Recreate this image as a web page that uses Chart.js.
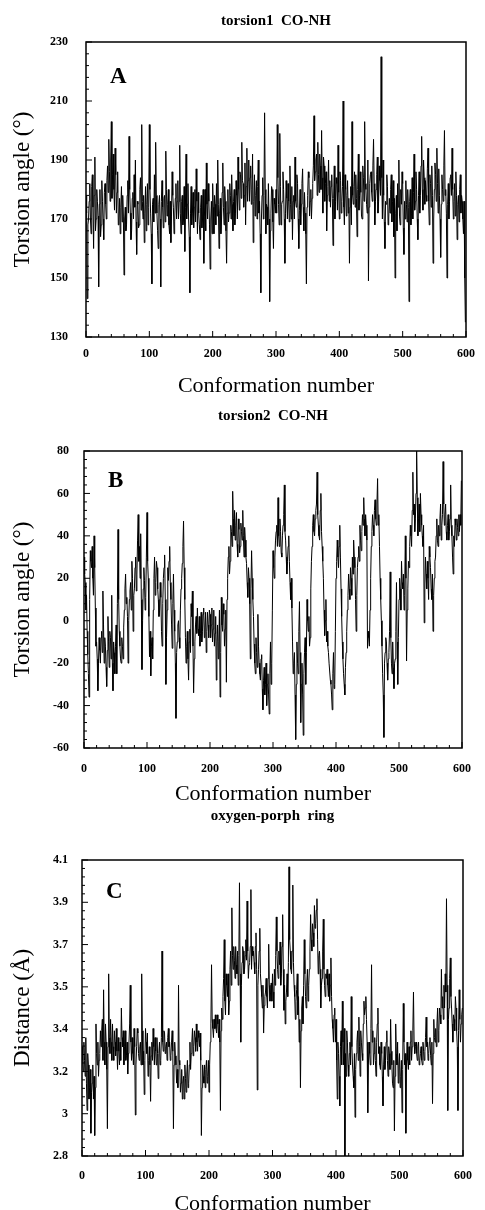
<!DOCTYPE html>
<html lang="en">
<head>
<meta charset="UTF-8">
<title>Torsion angles and distance vs conformation</title>
<script src="https://cdn.jsdelivr.net/npm/chart.js"></script>
<style>
  html, body { margin: 0; padding: 0; background: #fff; overflow: hidden; }
  .panel { position: absolute; left: 0; width: 485px; }
</style>
</head>
<body>
<div class="panel" style="top:0px;height:400px"><canvas id="chartA"></canvas></div>
<div class="panel" style="top:398px;height:415px"><canvas id="chartB"></canvas></div>
<div class="panel" style="top:800px;height:420px"><canvas id="chartC"></canvas></div>
<script>
// conformation numbers 0..599
const conformations = Array.from({ length: 600 }, (_, i) => i);

// panel A: torsion1 CO-NH (degrees), one row = 30 conformations
const torsion1 = [
  178,172,143,168,170,176,182,170,165,181,185,174,160,178,191,166,170,180,176,171,147,175,180,164,168,183,176,170,163,179,
  182,175,170,183,188,179,197,186,176,190,203,177,185,192,180,173,194,185,172,179,186,168,170,177,165,174,181,169,178,171,
  151,170,174,166,168,178,183,172,198,180,172,163,166,177,179,170,185,174,190,169,158,176,175,167,168,180,184,173,202,176,
  170,178,162,172,181,166,175,182,168,174,202,180,172,165,148,175,177,169,185,172,196,178,172,166,160,175,178,170,147,176,
  183,174,167,177,178,169,193,180,171,175,180,168,165,176,162,171,186,178,174,165,169,177,182,170,176,183,170,176,195,172,
  165,176,178,168,170,181,159,174,192,170,175,182,170,164,145,172,181,168,172,179,167,174,180,169,187,176,165,179,172,168,
  163,174,178,167,170,180,155,171,180,166,189,175,170,182,176,168,153,170,176,165,182,174,165,178,175,168,182,171,190,175,
  160,172,177,165,170,179,189,174,168,181,176,166,155,172,180,169,172,182,178,170,185,175,166,176,180,168,172,183,178,170,
  191,180,173,186,185,177,196,183,182,174,178,189,168,181,194,176,183,190,176,184,188,175,180,192,162,176,185,171,178,183,
  170,181,190,172,176,165,145,170,178,184,170,178,206,180,165,175,174,168,182,170,142,166,172,181,180,169,160,177,175,172,
  180,172,202,184,175,168,199,181,168,175,176,186,180,170,155,172,183,177,170,182,176,169,188,175,170,181,163,176,178,170,
  191,176,174,185,182,170,160,173,180,168,175,182,187,174,166,179,172,165,148,174,178,186,184,171,176,180,170,177,182,188,
  205,183,186,190,192,178,196,185,179,192,188,180,200,184,172,191,188,176,182,186,166,178,181,190,176,183,174,181,185,177,
  161,177,188,170,176,184,182,173,195,179,170,186,183,172,176,181,210,174,168,185,180,171,178,183,172,177,155,174,181,168,
  203,178,175,181,186,174,185,177,164,180,192,173,178,186,179,171,170,188,184,176,203,182,180,175,172,190,149,174,182,185,
  186,179,176,188,197,182,168,176,180,185,191,172,176,188,183,178,225,184,170,190,178,169,160,176,175,185,181,168,170,177,
  172,180,185,169,176,183,164,177,150,172,178,166,182,174,190,171,168,180,175,186,182,167,158,176,170,183,175,169,180,174,
  142,176,180,168,172,184,170,179,192,173,176,186,180,170,163,178,186,172,178,188,198,180,173,190,184,175,183,178,176,187,
  194,176,168,185,182,174,188,178,155,170,180,189,185,176,194,182,172,187,178,170,157,175,185,180,176,188,200,178,180,172,
  150,175,182,170,176,184,185,178,194,180,170,176,182,171,186,178,163,175,178,169,180,185,172,178,176,170,165,176,150,135
];

// panel B: torsion2 CO-NH (degrees)
const torsion2 = [
  30,22,18,5,12,-5,-16,-25,-36,10,33,28,25,35,20,12,40,25,6,-12,-10,-18,-33,-20,-8,-14,-20,-8,-5,-15,
  14,-2,-20,-8,-12,-22,-31,-14,2,-10,-22,-5,-8,-18,12,-20,-33,-10,-15,-25,-12,-2,-25,8,43,10,-5,-12,-18,-20,
  -8,-12,-18,-3,5,15,22,8,11,2,-20,0,10,14,18,5,28,20,-5,12,15,25,30,14,22,38,50,28,35,20,
  41,10,-23,0,15,25,19,5,11,30,51,28,20,2,-17,-5,-26,-12,-8,-18,5,20,30,12,18,28,25,15,10,2,
  5,18,11,-5,-12,8,20,25,31,10,-30,-8,5,25,19,28,35,18,10,-2,-13,8,22,5,-5,-20,-46,-15,-10,-2,
  0,-8,-13,5,15,20,27,35,47,25,10,-8,-20,-12,-5,-18,-28,-10,-4,-15,8,2,14,-12,-34,-18,-10,-2,2,-6,
  6,-4,-7,2,-12,-6,4,-10,-5,3,6,-8,-3,4,-15,-5,4,-2,-8,5,3,-8,-2,6,-10,-4,5,-12,-6,2,
  -28,-10,-2,-18,-10,5,-36,-15,11,-2,-5,8,3,-12,-4,5,-29,10,20,30,35,22,28,45,42,35,61,48,40,52,
  38,45,51,36,30,48,43,32,35,46,42,38,52,40,30,44,38,30,27,18,11,25,20,8,-18,15,33,20,10,2,
  -11,-20,-25,-8,-15,-22,3,-12,-20,-25,-28,-18,-16,-32,-42,-28,-22,-35,-30,-20,-40,-30,-25,-35,-44,-25,-10,-30,-20,5,
  33,25,20,30,38,42,45,35,58,40,35,48,42,32,30,40,45,50,64,42,38,30,22,28,35,40,28,18,10,20,
  6,-10,-25,-20,-15,-35,-56,-30,-10,-20,-25,-5,9,-15,-48,-30,-20,-35,-54,-25,-15,-8,-30,-15,10,0,-5,2,-12,-8,
  15,28,35,45,50,42,40,48,52,55,70,50,45,40,38,52,60,42,35,28,20,5,-7,0,10,-10,-5,-12,-15,-20,
  -20,-28,-30,-35,-42,-25,-15,-32,-30,-5,20,28,38,30,25,35,45,30,15,2,-10,-18,-25,-30,-35,-22,-15,-5,5,12,
  22,15,10,25,20,12,30,22,38,30,25,10,-5,12,25,30,35,28,45,38,33,42,50,45,58,48,40,50,45,38,
  -13,-5,-8,-12,5,20,35,42,50,45,40,52,57,48,45,55,67,45,50,35,20,10,0,-12,-25,-35,-55,-20,-15,-8,
  -10,-20,-28,-18,-15,-5,23,-8,-20,-25,-10,-22,-32,-20,-18,-5,18,-10,-30,-8,10,20,15,5,28,18,15,22,5,12,
  40,20,-19,5,15,28,25,35,45,40,35,52,70,50,55,42,48,60,80,58,40,48,55,42,60,50,45,40,35,45,
  -1,15,30,22,15,28,20,10,35,30,25,15,10,22,-5,12,20,28,30,40,48,38,35,45,40,48,55,38,45,50,
  75,55,45,50,55,42,38,45,50,38,42,48,64,45,40,30,22,40,35,48,45,38,48,44,40,50,42,50,45,66
];

// panel C: oxygen-porph ring distance (Angstrom)
const distance = [
  3.28,3.22,3.17,3.3,3.22,3.15,3.32,3.12,3.0,3.25,3.2,3.05,3.1,3.18,2.9,3.08,3.12,3.2,3.05,3.15,2.89,3.1,3.38,3.25,3.2,3.3,3.15,3.22,3.25,3.35,
  3.28,3.35,3.4,3.22,3.53,3.3,3.2,3.38,3.3,3.18,2.92,3.28,3.6,3.32,3.25,3.4,3.3,3.22,3.38,3.28,3.22,3.35,3.3,3.24,3.36,3.26,3.18,3.32,3.26,3.2,
  3.3,3.22,3.45,3.32,3.28,3.35,3.2,3.28,3.35,3.22,3.24,3.3,3.16,3.25,3.3,3.38,3.55,3.3,3.22,3.32,3.25,3.2,3.36,3.28,2.98,3.2,3.28,3.36,3.34,3.25,
  3.22,3.28,3.3,3.2,3.6,3.35,3.2,3.26,3.07,3.22,3.36,3.3,3.25,3.34,3.15,3.22,3.28,3.2,3.04,3.24,3.3,3.22,3.36,3.28,3.2,3.32,3.26,3.2,3.32,3.25,
  3.14,3.25,3.3,3.2,3.22,3.32,3.7,3.3,3.26,3.35,3.34,3.25,3.28,3.3,3.22,3.32,3.36,3.28,3.3,3.22,3.24,3.3,3.35,3.26,2.92,3.2,3.3,3.24,3.2,3.12,
  3.18,3.1,3.55,3.22,3.2,3.08,3.12,3.18,3.05,3.12,3.15,3.05,3.2,3.14,3.08,3.16,3.22,3.1,3.12,3.2,3.3,3.18,3.25,3.3,3.36,3.24,3.28,3.35,3.32,3.26,
  3.38,3.3,3.26,3.35,3.32,3.28,3.34,3.22,2.89,3.1,3.2,3.15,3.12,3.2,3.1,3.18,3.22,3.12,3.15,3.22,3.08,3.2,3.3,3.38,3.64,3.4,3.36,3.32,3.4,3.36,
  3.42,3.36,3.34,3.42,3.38,3.32,3.4,3.3,3.0,3.35,3.45,3.4,3.5,3.58,3.75,3.48,3.42,3.6,3.55,3.5,3.6,3.42,3.48,3.62,3.7,3.55,3.89,3.68,3.62,3.72,
  3.66,3.58,3.72,3.64,3.6,3.7,3.55,3.68,4.0,3.6,3.3,3.55,3.65,3.72,3.7,3.6,3.62,3.68,3.75,3.66,3.92,3.7,3.58,3.64,3.65,3.72,3.97,3.62,3.72,3.68,
  3.7,3.65,3.6,3.72,3.78,3.62,3.09,3.55,3.62,3.7,3.8,3.6,3.55,3.5,3.45,3.55,3.34,3.46,3.5,3.52,3.58,3.5,3.45,3.58,3.73,3.55,3.48,3.52,3.56,3.48,
  3.6,3.52,3.45,3.62,3.55,3.68,3.85,3.7,3.62,3.58,3.7,3.64,3.74,3.55,3.6,3.72,3.86,3.62,3.44,3.55,3.38,3.48,3.52,3.6,3.5,3.65,4.07,3.75,3.7,3.62,
  3.6,3.7,3.99,3.65,3.55,3.5,3.4,3.48,3.53,3.6,3.42,3.5,3.3,3.4,3.1,3.35,3.45,3.5,3.38,3.55,3.75,3.6,3.5,3.45,3.56,3.62,3.48,3.55,3.62,3.7,
  3.86,3.75,3.7,3.82,3.78,3.72,3.9,3.8,3.82,3.88,3.93,3.75,3.6,3.68,3.7,3.62,3.45,3.55,3.58,3.7,3.84,3.62,3.55,3.5,3.6,3.58,3.62,3.55,3.5,3.6,
  3.48,3.55,3.67,3.5,3.4,3.36,3.3,3.42,3.45,3.3,3.4,3.22,3.05,3.3,3.25,3.15,3.02,3.28,3.35,3.2,3.48,3.3,3.2,3.36,2.8,3.25,3.15,3.35,3.3,3.2,
  3.15,3.25,3.3,3.2,3.5,3.28,3.2,3.15,3.1,3.25,2.97,3.18,3.25,3.3,3.35,3.22,3.41,3.28,3.15,3.35,3.3,3.25,3.22,3.38,3.48,3.42,3.45,3.5,3.4,3.3,
  2.99,3.2,3.3,3.25,3.2,3.36,3.64,3.3,3.35,3.2,3.25,3.32,3.22,3.15,3.3,3.38,3.45,3.25,3.28,3.2,3.18,3.3,3.25,3.15,3.02,3.2,3.28,3.18,3.22,3.3,
  3.35,3.22,3.15,3.28,3.25,3.18,3.4,3.26,3.2,3.12,3.1,3.22,2.91,3.15,3.38,3.25,3.2,3.3,3.12,3.2,3.25,3.1,3.15,3.22,2.99,3.18,3.47,3.3,3.2,3.25,
  2.9,3.2,3.3,3.22,3.18,3.28,3.2,3.3,3.35,3.22,3.28,3.35,3.52,3.3,3.25,3.28,3.3,3.25,3.22,3.28,3.3,3.2,3.22,3.25,3.28,3.22,3.2,3.3,3.26,3.22,
  3.26,3.32,3.41,3.28,3.3,3.22,3.25,3.3,3.32,3.24,3.2,3.3,3.03,3.25,3.4,3.32,3.3,3.36,3.28,3.38,3.45,3.3,3.35,3.45,3.42,3.38,3.62,3.45,3.5,3.4,
  3.55,3.45,3.6,3.52,3.93,3.55,3.0,3.4,3.45,3.58,3.67,3.5,3.45,3.38,3.3,3.42,3.4,3.35,3.5,3.45,3.35,3.28,3.0,3.35,3.53,3.4,3.3,3.38,3.42,3.45
];

// tick labels
const xTicks = [0, 100, 200, 300, 400, 500, 600];
const yTicksA = [130, 150, 170, 190, 210, 230];
const yTicksB = [-60, -40, -20, 0, 20, 40, 60, 80];
const yTickLabelsC = ["2.8", "3", "3.2", "3.4", "3.5", "3.7", "3.9", "4.1"];
// the C axis runs 2.8 .. 4.1 in 7 equal steps (labels are rounded)
const yTicksC = yTickLabelsC.map((_, i) => 2.8 + i * 1.3 / 7);

const serif = "'Liberation Serif', 'Times New Roman', serif";

// frame, inward tick marks and the panel letter
const decoPlugin = {
  id: 'panelDeco',
  afterDatasetsDraw(chart, args, opts) {
    const { ctx, chartArea: a, scales: { x, y } } = chart;
    ctx.save();
    ctx.strokeStyle = '#000';
    ctx.lineWidth = 1.5;
    ctx.strokeRect(a.left, a.top, a.right - a.left, a.bottom - a.top);
    ctx.lineWidth = 1;
    ctx.beginPath();
    for (let k = 0; k <= 30; k++) {
      const px = x.getPixelForValue(k * 20);
      const len = k % 5 === 0 ? 6 : 3;
      ctx.moveTo(px, a.bottom);
      ctx.lineTo(px, a.bottom - len);
    }
    const n = opts.yMinor;
    for (let k = 0; k <= n; k++) {
      const py = y.getPixelForValue(y.min + k * (y.max - y.min) / n);
      const len = k % 5 === 0 ? 6 : 3;
      ctx.moveTo(a.left, py);
      ctx.lineTo(a.left + len, py);
    }
    ctx.stroke();
    ctx.font = 'bold 23px ' + serif;
    ctx.fillStyle = '#000';
    ctx.textBaseline = 'alphabetic';
    ctx.fillText(opts.letter, a.left + 24, a.top + opts.letterY);
    ctx.restore();
  }
};

function makePanel(id, cfg) {
  return new Chart(document.getElementById(id), {
    type: 'line',
    data: {
      datasets: [{
        data: conformations.map((c, i) => ({ x: c, y: cfg.values[i] })),
        borderColor: '#000',
        borderWidth: 1,
        pointRadius: 0,
        tension: 0
      }]
    },
    options: {
      responsive: true,
      maintainAspectRatio: false,
      animation: false,
      layout: { padding: { left: 0, right: 15, top: 0, bottom: cfg.padBottom } },
      plugins: {
        legend: { display: false },
        tooltip: { enabled: false },
        title: {
          display: true,
          text: cfg.title,
          fullSize: false,
          color: '#000',
          font: { family: serif, size: 15, weight: 'bold' },
          padding: { top: cfg.titleTop, bottom: cfg.titleBottom }
        },
        panelDeco: { letter: cfg.letter, letterY: cfg.letterY, yMinor: cfg.yMinor }
      },
      scales: {
        x: {
          type: 'linear',
          min: 0,
          max: 600,
          afterBuildTicks: s => { s.ticks = xTicks.map(v => ({ value: v })); },
          grid: { display: false, drawTicks: false },
          border: { display: false },
          ticks: { padding: cfg.xPad, maxRotation: 0, color: '#000', font: { family: serif, size: 12, weight: 'bold' } },
          title: {
            display: true,
            text: 'Conformation number',
            color: '#000',
            font: { family: serif, size: 22 },
            padding: { top: 0, bottom: 0 }
          },
          afterFit: s => { s.height = cfg.xHeight; }
        },
        y: {
          min: cfg.yMin,
          max: cfg.yMax,
          afterBuildTicks: s => { s.ticks = cfg.yTicks.map(v => ({ value: v })); },
          grid: { display: false, drawTicks: false },
          border: { display: false },
          ticks: {
            padding: cfg.yPad,
            color: '#000',
            font: { family: serif, size: 12, weight: 'bold' },
            callback: cfg.yLabel
          },
          title: {
            display: true,
            text: cfg.yTitle,
            color: '#000',
            font: { family: serif, size: 23 },
            padding: { top: 9, bottom: 0 }
          },
          afterFit: s => { s.width = cfg.left; }
        }
      }
    },
    plugins: [decoPlugin]
  });
}

makePanel('chartA', {
  values: torsion1, title: 'torsion1  CO-NH', letter: 'A', letterY: 41,
  yTitle: 'Torsion angle (°)', yMin: 130, yMax: 230, yTicks: yTicksA, yMinor: 25,
  yLabel: v => String(v),
  left: 86, yPad: 18, titleTop: 12, titleBottom: 12,
  xPad: 10, xHeight: 62, padBottom: 1
});

makePanel('chartB', {
  values: torsion2, title: 'torsion2  CO-NH', letter: 'B', letterY: 36,
  yTitle: 'Torsion angle (°)', yMin: -60, yMax: 80, yTicks: yTicksB, yMinor: 35,
  yLabel: v => String(v),
  left: 84, yPad: 15, titleTop: 9, titleBottom: 26,
  xPad: 14, xHeight: 59, padBottom: 6
});

makePanel('chartC', {
  values: distance, title: 'oxygen-porph  ring', letter: 'C', letterY: 38,
  yTitle: 'Distance (Å)', yMin: 2.8, yMax: 4.1, yTicks: yTicksC, yMinor: 35,
  yLabel: (v, i) => yTickLabelsC[i],
  left: 82, yPad: 14, titleTop: 7, titleBottom: 35,
  xPad: 13, xHeight: 61, padBottom: 3
});
</script>
</body>
</html>
